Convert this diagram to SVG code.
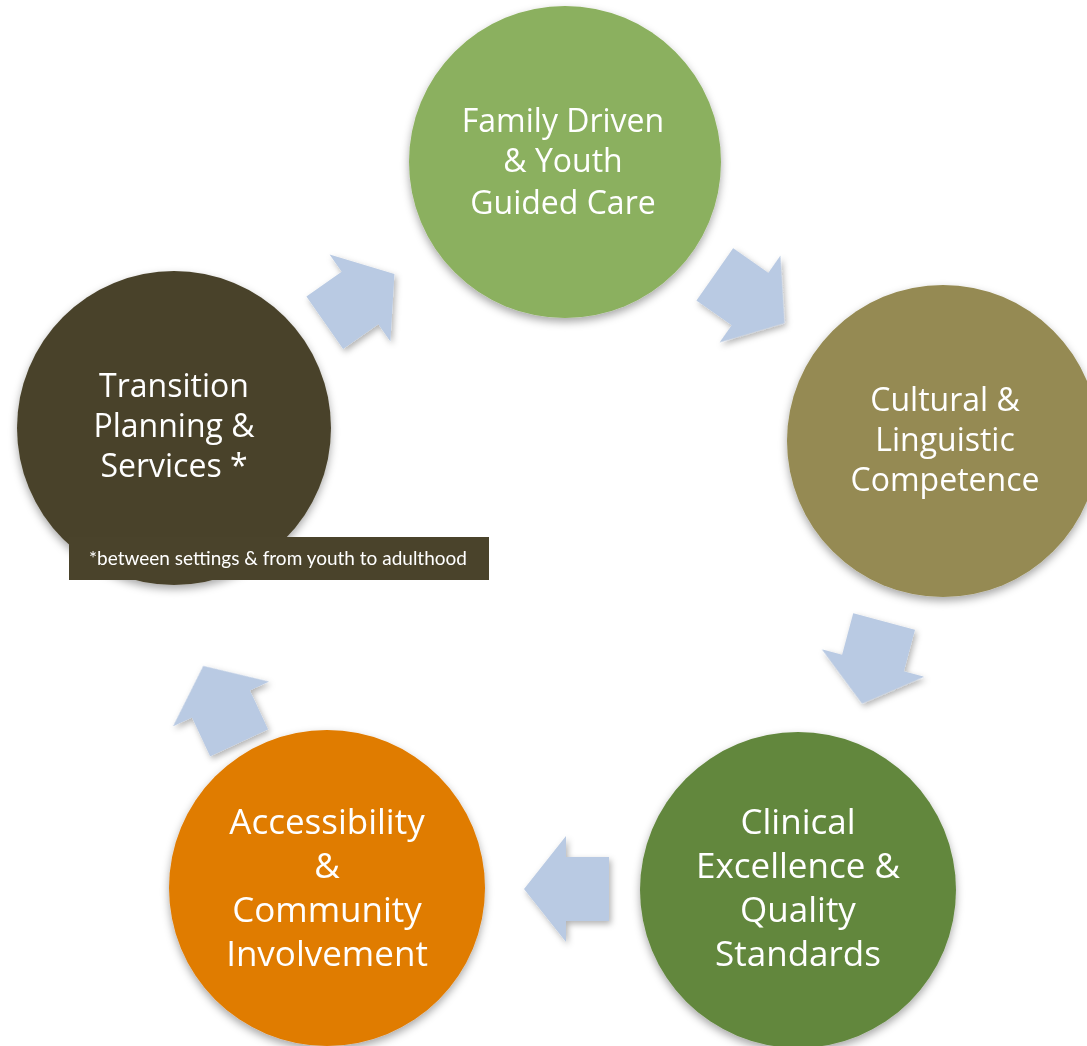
<svg xmlns="http://www.w3.org/2000/svg" width="1087" height="1046" viewBox="0 0 1087 1046">
<defs>
<filter id="sh" x="-20%" y="-20%" width="140%" height="140%">
<feDropShadow dx="0" dy="4" stdDeviation="4" flood-color="#000" flood-opacity="0.35"/>
</filter>
<filter id="ash" x="-30%" y="-30%" width="160%" height="160%">
<feDropShadow dx="2" dy="3" stdDeviation="3" flood-color="#000" flood-opacity="0.3"/>
</filter>
<path id="arr" d="M-43,-32 L0,-32 L0,-53 L42,0 L0,53 L0,32 L-43,32 Z"/>
</defs>
<style>
.t{font-family:"Open Sans","Noto Sans","Liberation Sans",sans-serif;fill:#fff;text-anchor:middle;font-size:32px}
.b{font-size:35px}
.s{font-family:Lato,"Liberation Sans",sans-serif;fill:#fff;text-anchor:middle;font-size:19px}
.a{fill:#b9cae3}
</style>
<rect width="1087" height="1046" fill="#fff"/>
<g id="connectors" filter="url(#ash)">
<use href="#arr" class="a" transform="translate(360,298) rotate(-35)"/>
<use href="#arr" class="a" transform="translate(750,299) rotate(35)"/>
<use href="#arr" class="a" transform="translate(873,663) rotate(105)"/>
<use href="#arr" class="a" transform="translate(566,889) rotate(180)"/>
<use href="#arr" class="a" transform="translate(221,704) rotate(-115)"/>
</g>
<g id="family">
<circle cx="565" cy="162" r="156" fill="#8bb05e" filter="url(#sh)"/>
<text class="t" x="563" y="132">Family Driven</text>
<text class="t" x="563" y="172">&amp; Youth</text>
<text class="t" x="563" y="214">Guided Care</text>
</g>
<g id="cultural">
<circle cx="943" cy="441" r="156" fill="#958a52" filter="url(#sh)"/>
<text class="t" x="945" y="411">Cultural &amp;</text>
<text class="t" x="945" y="451">Linguistic</text>
<text class="t" x="945" y="491">Competence</text>
</g>
<g id="clinical">
<circle cx="798" cy="890" r="158" fill="#62873e" filter="url(#sh)"/>
<text class="t b" x="798" y="834">Clinical</text>
<text class="t b" x="798" y="878">Excellence &amp;</text>
<text class="t b" x="798" y="922">Quality</text>
<text class="t b" x="798" y="966">Standards</text>
</g>
<g id="accessibility">
<circle cx="327" cy="888" r="158" fill="#e07b00" filter="url(#sh)"/>
<text class="t b" x="327" y="834">Accessibility</text>
<text class="t b" x="327" y="878">&amp;</text>
<text class="t b" x="327" y="922">Community</text>
<text class="t b" x="327" y="966">Involvement</text>
</g>
<g id="transition">
<circle cx="174" cy="428" r="157" fill="#4a432b" filter="url(#sh)"/>
<text class="t" x="174" y="397">Transition</text>
<text class="t" x="174" y="437">Planning &amp;</text>
<text class="t" x="174" y="477">Services *</text>
</g>
<g id="note">
<rect x="69" y="537" width="420" height="43" fill="#4a432b"/>
<text class="s" x="278" y="565">*between settings &amp; from youth to adulthood</text>
</g>
</svg>
